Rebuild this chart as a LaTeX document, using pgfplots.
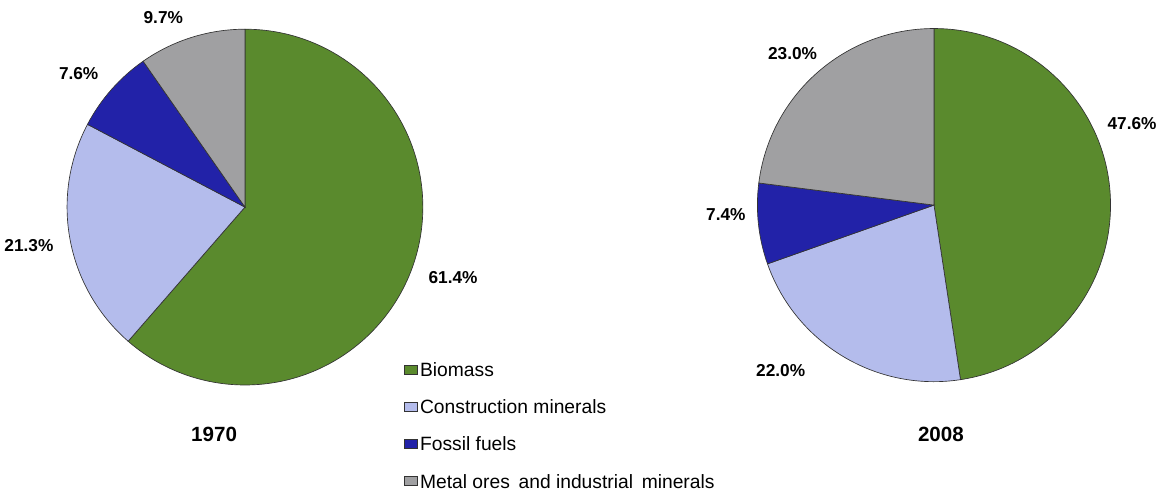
\documentclass[border=0pt]{standalone}
\usepackage{pgfplots}
\pgfplotsset{compat=1.18}
\usepackage{fontspec}
\setmainfont{Liberation Sans}
\definecolor{bio}{HTML}{5A8A2D}
\definecolor{con}{HTML}{B4BCEC}
\definecolor{fos}{HTML}{2222A8}
\definecolor{met}{HTML}{A0A0A2}
% slice: center x, center y, radius, cumulative share before, share, colour
\newcommand\slice[6]{%
  \filldraw[fill=#6, draw=black!80, line width=0.5pt]
    (axis cs:#1,#2) -- ++({90-3.6*(#4)}:#3)
    arc[start angle={90-3.6*(#4)}, end angle={90-3.6*(#4+#5)}, radius=#3] -- cycle;}
\newcommand\pct[3]{\node[anchor=base, font=\fontsize{13}{15}\selectfont\bfseries] at (axis cs:#1,#2) {#3};}
\begin{document}
\begin{tikzpicture}
\begin{axis}[
  x=0.75pt, y=0.75pt,
  xmin=0, xmax=1161, ymin=0, ymax=495,
  hide axis, clip=false,
  legend image code/.code={\filldraw[#1, draw=black!80, line width=0.5pt] (0pt,-1.7pt) rectangle (9.75pt,5.05pt);},
  legend cell align=left,
  legend style={at={(0.3488,0.2633)}, anchor=north west, draw=none, fill=none,
    inner sep=0pt, row sep=15pt, column sep=1.5pt,
    font=\fontsize{14.5}{17}\selectfont,
    nodes={inner sep=0pt, text height=10pt, text depth=3pt}},
]
% 1970: Biomass 61.4, Construction 21.3, Fossil 7.6, Metal 9.7
\slice{245}{287}{134pt}{0}{61.4}{bio}
\slice{245}{287}{134pt}{61.4}{21.3}{con}
\slice{245}{287}{134pt}{61.4+21.3}{7.6}{fos}
\slice{245}{287}{134pt}{61.4+21.3+7.6}{9.7}{met}
% 2008: Biomass 47.6, Construction 22.0, Fossil 7.4, Metal 23.0
\slice{937}{289}{133pt}{0}{47.6}{bio}
\slice{937}{289}{133pt}{47.6}{22.0}{con}
\slice{937}{289}{133pt}{47.6+22.0}{7.4}{fos}
\slice{937}{289}{133pt}{47.6+22.0+7.4}{23.0}{met}
\pct{163}{471}{9.7\%}
\pct{78}{415}{7.6\%}
\pct{28}{242}{21.3\%}
\pct{454}{210}{61.4\%}
\pct{795}{435}{23.0\%}
\pct{1136}{365}{47.6\%}
\pct{728}{274}{7.4\%}
\pct{783}{117}{22.0\%}
\node[anchor=base, font=\fontsize{15.5}{18}\selectfont\bfseries] at (axis cs:214,52) {1970};
\node[anchor=base, font=\fontsize{15.5}{18}\selectfont\bfseries] at (axis cs:944,52) {2008};
\addlegendimage{fill=bio}\addlegendentry{Biomass}
\addlegendimage{fill=con}\addlegendentry{Construction minerals}
\addlegendimage{fill=fos}\addlegendentry{Fossil fuels}
\addlegendimage{fill=met}\addlegendentry{Metal ores\hspace{2.5pt} and industrial\hspace{2.5pt} minerals}
\path (axis cs:0,0) rectangle (axis cs:1161,495);
\end{axis}
\end{tikzpicture}
\end{document}
